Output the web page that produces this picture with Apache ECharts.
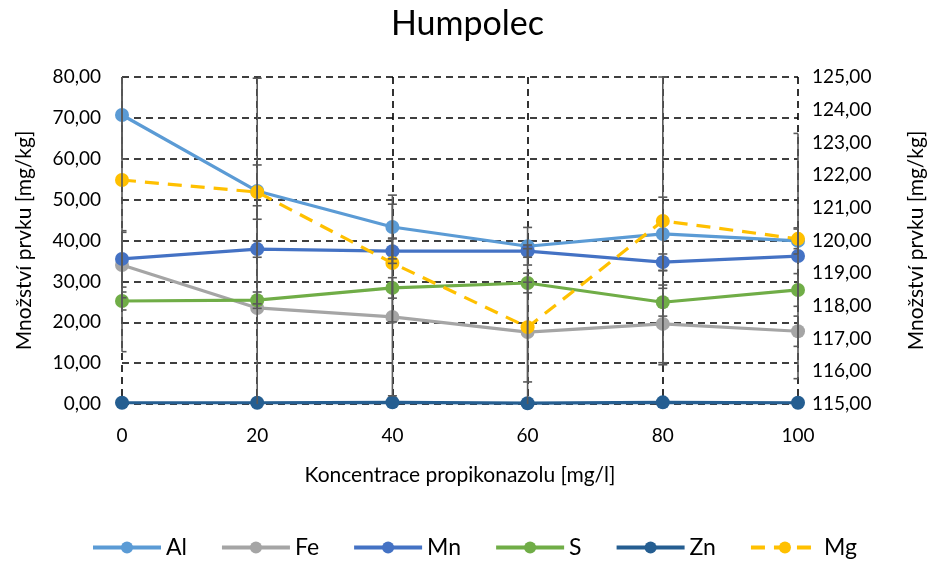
<!DOCTYPE html>
<html>
<head>
<meta charset="utf-8">
<script src="https://cdn.jsdelivr.net/npm/echarts@6/dist/echarts.min.js"></script>
<style>
html,body{margin:0;padding:0;background:#fff;}
#chart{width:935px;height:566px;}
</style>
</head>
<body>
<div id="chart"></div>
<script>
const categories = ['0', '20', '40', '60', '80', '100'];
const alValues = [70.7, 52.1, 43.3, 38.6, 41.6, 39.9];
const feValues = [34.0, 23.5, 21.3, 17.6, 19.6, 17.8];
const mnValues = [35.5, 37.9, 37.4, 37.4, 34.7, 36.2];
const sValues  = [25.2, 25.4, 28.4, 29.6, 24.9, 27.9];
const znValues = [0.3, 0.3, 0.4, 0.2, 0.4, 0.3];
const mgValues = [121.85, 121.48, 119.31, 117.35, 120.6, 120.05];

const alErr = [10.8, 27.6, 7.8, 4.6, 9.0, 3.2];
const feErr = [8.0, 25.0, 19.3, 12.2, 9.5, 3.7];
const mnErr = [6.9, 2.0, 3.0, 1.5, 2.0, 30.0];
const sErr  = [2.2, 2.0, 2.5, 2.4, 3.4, 4.0];
const znErr = [0, 0, 0, 0, 0, 0];
const mgErr = [5.25, 0.83, 1.8, 2.4, 4.4, 0.3];

const FONT = 'Lato';
const fmt = v => v.toFixed(2).replace('.', ',');

function errRender(params, api) {
  const cs = params.coordSys;
  const x = api.value(0), v = api.value(1), e = api.value(2);
  if (!e) return null;
  const top = api.coord([x, v + e]);
  const bot = api.coord([x, v - e]);
  const yMin = cs.y, yMax = cs.y + cs.height, xMin = cs.x, xMax = cs.x + cs.width;
  const clampY = y => Math.max(yMin, Math.min(yMax, y));
  const cx = top[0];
  const style = {stroke: '#595959', lineWidth: 1.6};
  const children = [{type: 'line', shape: {x1: cx, y1: clampY(top[1]), x2: cx, y2: clampY(bot[1])}, style}];
  const hw = 4.5;
  const x1 = Math.max(xMin, cx - hw), x2 = Math.min(xMax, cx + hw);
  [top[1], bot[1]].forEach(y => {
    if (y >= yMin - 0.5 && y <= yMax + 0.5) {
      children.push({type: 'line', shape: {x1: x1, y1: y, x2: x2, y2: y}, style});
    }
  });
  return {type: 'group', children};
}

function lineSeries(name, data, color, yAxisIndex, dashed) {
  return {
    name, type: 'line', data, yAxisIndex,
    symbol: 'circle', symbolSize: 14,
    lineStyle: {color, width: 3.2, type: dashed ? [14, 9] : 'solid'},
    itemStyle: {color},
    z: 3
  };
}
function errSeries(name, values, errs, yAxisIndex) {
  return {
    name, type: 'custom', yAxisIndex,
    renderItem: errRender,
    data: values.map((v, i) => [i, v, errs[i]]),
    z: 5, silent: true
  };
}

const chart = echarts.init(document.getElementById('chart'));
chart.setOption({
  animation: false,
  backgroundColor: '#fff',
  textStyle: {fontFamily: FONT},
  title: {
    text: 'Humpolec', left: 'center', top: 2,
    textStyle: {fontFamily: FONT, fontSize: 34, fontWeight: 'normal', color: '#000'}
  },
  legend: {
    bottom: 2, left: 86,
    itemWidth: 68, itemHeight: 15, itemGap: 33,
    lineStyle: {width: 4},
    textStyle: {fontFamily: FONT, fontSize: 23, color: '#000'},
    data: ['Al', 'Fe', 'Mn', 'S', 'Zn', 'Mg']
  },
  grid: {left: 122, right: 129, top: 77, bottom: 162},
  xAxis: {
    type: 'category', data: categories, boundaryGap: false,
    name: 'Koncentrace propikonazolu [mg/l]', nameLocation: 'middle', nameGap: 61,
    nameTextStyle: {fontFamily: FONT, fontSize: 21, color: '#000'},
    axisLine: {show: false}, axisTick: {show: false},
    axisLabel: {fontFamily: FONT, fontSize: 19, color: '#000', margin: 22},
    splitLine: {show: true, lineStyle: {color: '#000', width: 1.6, type: [7, 5]}}
  },
  yAxis: [
    {
      type: 'value', min: 0, max: 80, interval: 10,
      name: 'Množství prvku [mg/kg]', nameLocation: 'middle', nameGap: 87,
      nameTextStyle: {fontFamily: FONT, fontSize: 21, color: '#000'},
      axisLine: {show: false}, axisTick: {show: false},
      axisLabel: {fontFamily: FONT, fontSize: 19, color: '#000', margin: 21, formatter: fmt},
      splitLine: {show: true, lineStyle: {color: '#000', width: 1.6, type: [7, 5]}}
    },
    {
      type: 'value', min: 115, max: 125, interval: 1, position: 'right',
      name: 'Množství prvku [mg/kg]', nameLocation: 'middle', nameGap: 108,
      nameRotate: 90,
      nameTextStyle: {fontFamily: FONT, fontSize: 21, color: '#000'},
      axisLine: {show: false}, axisTick: {show: false},
      axisLabel: {fontFamily: FONT, fontSize: 19, color: '#000', margin: 14, formatter: fmt},
      splitLine: {show: false}
    }
  ],
  series: [
    lineSeries('Al', alValues, '#5B9BD5', 0),
    lineSeries('Fe', feValues, '#A5A5A5', 0),
    lineSeries('Mn', mnValues, '#4472C4', 0),
    lineSeries('S', sValues, '#70AD47', 0),
    lineSeries('Zn', znValues, '#255E91', 0),
    lineSeries('Mg', mgValues, '#FFC000', 1, true),
    errSeries('Al', alValues, alErr, 0),
    errSeries('Fe', feValues, feErr, 0),
    errSeries('Mn', mnValues, mnErr, 0),
    errSeries('S', sValues, sErr, 0),
    errSeries('Zn', znValues, znErr, 0),
    errSeries('Mg', mgValues, mgErr, 1)
  ]
});
</script>
</body>
</html>
